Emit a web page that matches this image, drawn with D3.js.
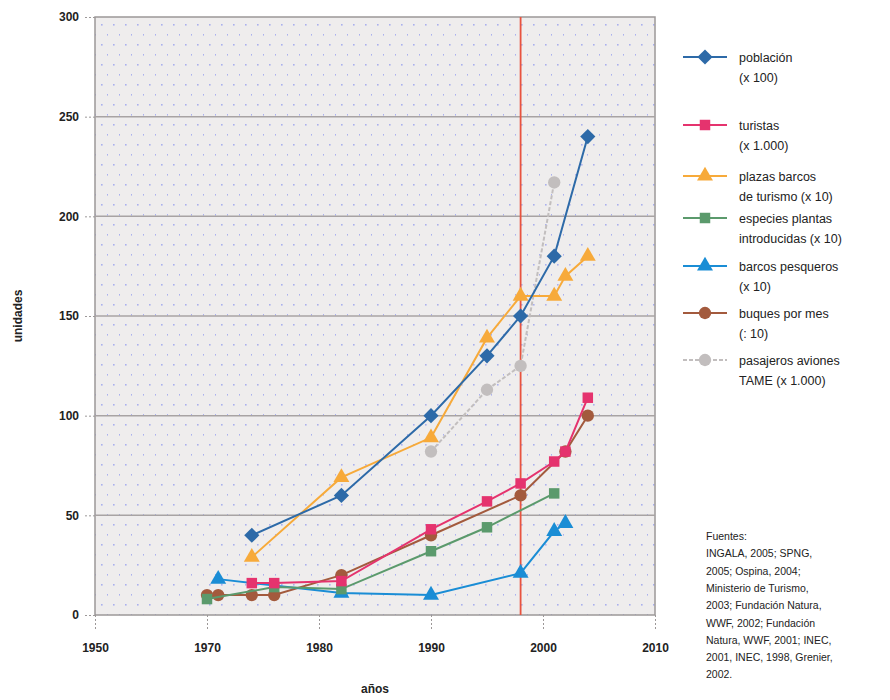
<!DOCTYPE html>
<html>
<head>
<meta charset="utf-8">
<script src="https://cdn.jsdelivr.net/npm/d3@7"></script>
<style>
  body { margin: 0; background: #fff; }
  text { font-family: "Liberation Sans", Arial, sans-serif; }
</style>
</head>
<body>
<div class="chart"></div>
<script>
// --- DATA --- //
const yTicks = [0, 50, 100, 150, 200, 250, 300];
const xTicks = [1960, 1970, 1980, 1990, 2000, 2010];
const xTickLabels = ["1950", "1970", "1980", "1990", "2000", "2010"];
const markerYear = 1998;

const poblacion = [[1974, 40], [1982, 60], [1990, 100], [1995, 130], [1998, 150], [2001, 180], [2004, 240]];
const turistas = [[1974, 16], [1976, 16], [1982, 17], [1990, 43], [1995, 57], [1998, 66], [2001, 77], [2002, 82], [2004, 109]];
const plazas = [[1974, 29], [1982, 69], [1990, 89], [1995, 139], [1998, 160], [2001, 160], [2002, 170], [2004, 180]];
const especies = [[1970, 8], [1976, 14], [1982, 13], [1990, 32], [1995, 44], [2001, 61]];
const pesqueros = [[1971, 18], [1982, 11], [1990, 10], [1998, 21], [2001, 42], [2002, 46]];
const buques = [[1970, 10], [1971, 10], [1974, 10], [1976, 10], [1982, 20], [1990, 40], [1998, 60], [2002, 82], [2004, 100]];
const pasajeros = [[1990, 82], [1995, 113], [1998, 125], [2001, 217]];

const seriesNames = [
  ["población", "(x 100)"],
  ["turistas", "(x 1.000)"],
  ["plazas barcos", "de turismo (x 10)"],
  ["especies plantas", "introducidas (x 10)"],
  ["barcos pesqueros", "(x 10)"],
  ["buques por mes", "(: 10)"],
  ["pasajeros aviones", "TAME (x 1.000)"]
];
const sources = [
  "Fuentes:",
  "INGALA, 2005; SPNG,",
  "2005; Ospina, 2004;",
  "Ministerio de Turismo,",
  "2003; Fundación Natura,",
  "WWF, 2002; Fundación",
  "Natura, WWF, 2001; INEC,",
  "2001, INEC, 1998, Grenier,",
  "2002."
];

// series styling (rot = rotate the square to get a diamond)
const series = [
  { data: poblacion, color: "#2d6aa8", shape: d3.symbolSquare, size: 115, rot: 45, dash: null },
  { data: turistas, color: "#e5336e", shape: d3.symbolSquare, size: 110, rot: 0, dash: null },
  { data: plazas, color: "#f7aa3a", shape: d3.symbolTriangle, size: 110, rot: 0, dash: null },
  { data: especies, color: "#5b9a6c", shape: d3.symbolSquare, size: 110, rot: 0, dash: null },
  { data: pesqueros, color: "#1a8dd5", shape: d3.symbolTriangle, size: 110, rot: 0, dash: null },
  { data: buques, color: "#a35a3d", shape: d3.symbolCircle, size: 120, rot: 0, dash: null },
  { data: pasajeros, color: "#c2bebe", shape: d3.symbolCircle, size: 120, rot: 0, dash: "4,2" }
];
series.forEach((s, i) => s.name = seriesNames[i]);

// --- SVG --- //
const width = 890, height = 700;
const margin = { left: 95, right: 235, top: 17, bottom: 85 };

const svg = d3.select(".chart").append("svg")
  .attr("width", width)
  .attr("height", height);

const x = d3.scaleLinear().domain([1960, 2010]).range([margin.left, width - margin.right]);
const y = d3.scaleLinear().domain([0, 300]).range([height - margin.bottom, margin.top]);

// background pattern (light grey with blue dots)
const defs = svg.append("defs");
const pat = defs.append("pattern")
  .attr("id", "dots")
  .attr("patternUnits", "userSpaceOnUse")
  .attr("width", 12).attr("height", 20);
pat.append("rect").attr("width", 12).attr("height", 20).attr("fill", "#efeded");
pat.append("rect").attr("x", 5).attr("y", 4).attr("width", 1.6).attr("height", 1.6).attr("fill", "#aab0ee");
pat.append("rect").attr("x", 11).attr("y", 14).attr("width", 1.6).attr("height", 1.6).attr("fill", "#aab0ee");

svg.append("rect")
  .attr("x", x(1960)).attr("y", y(300))
  .attr("width", x(2010) - x(1960))
  .attr("height", y(0) - y(300))
  .attr("fill", "url(#dots)")
  .attr("stroke", "#9c9898")
  .attr("stroke-width", 1.5);

// horizontal gridlines
svg.append("g")
  .selectAll("line")
  .data(yTicks.slice(1, -1))
  .join("line")
  .attr("x1", x(1960)).attr("x2", x(2010))
  .attr("y1", d => y(d)).attr("y2", d => y(d))
  .attr("stroke", "#a8a3a3")
  .attr("stroke-width", 1.5);

// axes
const yAxis = svg.append("g")
  .attr("transform", `translate(${x(1960)},0)`)
  .call(d3.axisLeft(y).tickValues(yTicks).tickSize(10).tickPadding(6));
yAxis.select(".domain").remove();
yAxis.selectAll(".tick line").attr("stroke", "#9c9898").attr("stroke-dasharray", "2,2");
yAxis.selectAll(".tick text")
  .attr("font-size", 12).attr("font-weight", "bold").attr("fill", "#222");

const xAxis = svg.append("g")
  .attr("transform", `translate(0,${y(0)})`)
  .call(d3.axisBottom(x).tickValues(xTicks).tickFormat((d, i) => xTickLabels[i]).tickSize(16).tickPadding(12));
xAxis.select(".domain").remove();
xAxis.selectAll(".tick line").attr("stroke", "#9c9898").attr("stroke-dasharray", "2,2");
xAxis.selectAll(".tick text")
  .attr("font-size", 12).attr("font-weight", "bold").attr("fill", "#222");

// axis titles
svg.append("text")
  .attr("transform", `translate(22,${(y(0) + y(300)) / 2}) rotate(-90)`)
  .attr("text-anchor", "middle")
  .attr("font-size", 12).attr("font-weight", "bold").attr("fill", "#222")
  .text("unidades");

svg.append("text")
  .attr("x", (x(1960) + x(2010)) / 2).attr("y", 693)
  .attr("text-anchor", "middle")
  .attr("font-size", 12).attr("font-weight", "bold").attr("fill", "#222")
  .text("años");

// red reference line
svg.append("line")
  .attr("x1", x(markerYear)).attr("x2", x(markerYear))
  .attr("y1", y(300)).attr("y2", y(0))
  .attr("stroke", "#e8533f")
  .attr("stroke-width", 1.8);

// --- SERIES --- //
const line = d3.line().x(d => x(d[0])).y(d => y(d[1]));

// draw in reverse so población ends on top
const drawOrder = series.slice().reverse();
drawOrder.forEach(s => {
  const g = svg.append("g");
  g.append("path")
    .datum(s.data)
    .attr("d", line)
    .attr("fill", "none")
    .attr("stroke", s.color)
    .attr("stroke-width", 2)
    .attr("stroke-dasharray", s.dash);
  g.selectAll("path.pt")
    .data(s.data)
    .join("path")
    .attr("class", "pt")
    .attr("transform", d => `translate(${x(d[0])},${y(d[1])}) rotate(${s.rot})`)
    .attr("d", d3.symbol().type(s.shape).size(s.size))
    .attr("fill", s.color);
});

// --- LEGEND --- //
const legendY = [57, 125, 176, 218, 266, 313, 360];
const legend = svg.append("g");
series.forEach((s, i) => {
  const g = legend.append("g").attr("transform", `translate(0,${legendY[i]})`);
  g.append("line")
    .attr("x1", 683).attr("x2", 727)
    .attr("stroke", s.color).attr("stroke-width", 2)
    .attr("stroke-dasharray", s.dash);
  g.append("path")
    .attr("transform", `translate(705,0) rotate(${s.rot})`)
    .attr("d", d3.symbol().type(s.shape).size(s.size))
    .attr("fill", s.color);
  g.selectAll("text")
    .data(s.name)
    .join("text")
    .attr("x", 739)
    .attr("y", (d, j) => 5 + j * 20)
    .attr("font-size", 12.5)
    .attr("fill", "#222")
    .text(d => d);
});

// sources note
svg.append("g")
  .selectAll("text")
  .data(sources)
  .join("text")
  .attr("x", 706)
  .attr("y", (d, i) => 540 + i * 17.3)
  .attr("font-size", 10.5)
  .attr("fill", "#222")
  .text(d => d);
</script>
</body>
</html>
